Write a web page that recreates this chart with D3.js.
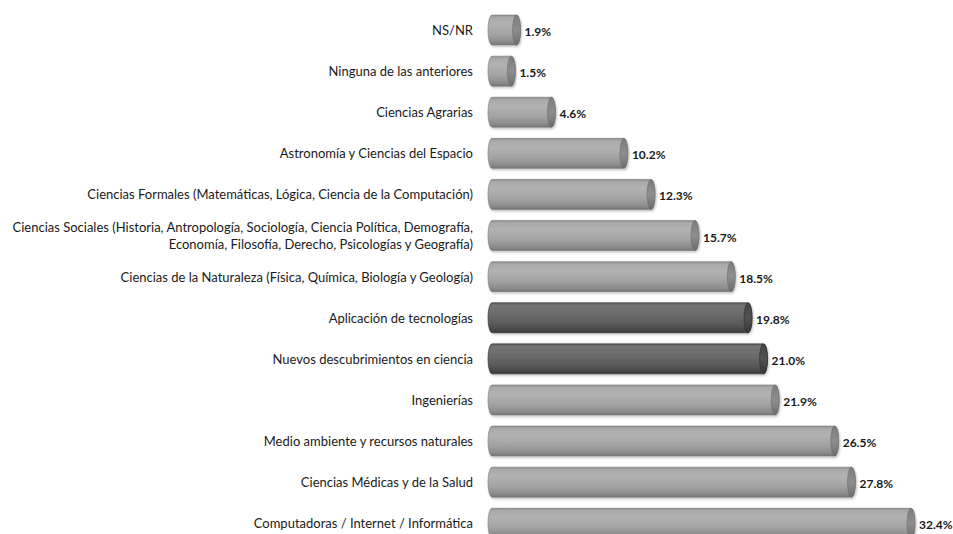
<!DOCTYPE html>
<html>
<head>
<meta charset="utf-8">
<script src="https://cdn.jsdelivr.net/npm/d3@7"></script>
<style>
  body { margin: 0; background: #fff; }
  svg { display: block; }
  .cat { font-family: Lato, "Noto Sans", sans-serif; font-size: 13px; fill: #1a1a1a; }
  .val { font-family: Lato, "Noto Sans", sans-serif; font-size: 12px; font-weight: bold; fill: #1a1a1a; }
</style>
</head>
<body>
<div id="chart"></div>
<script>
// data, top to bottom
var categories = [
  'NS/NR',
  'Ninguna de las anteriores',
  'Ciencias Agrarias',
  'Astronomía y Ciencias del Espacio',
  'Ciencias Formales (Matemáticas, Lógica, Ciencia de la Computación)',
  'Ciencias Sociales (Historia, Antropología, Sociología, Ciencia Política, Demografía,|Economía, Filosofía, Derecho, Psicologías y Geografía)',
  'Ciencias de la Naturaleza (Física, Química, Biología y Geología)',
  'Aplicación de tecnologías',
  'Nuevos descubrimientos en ciencia',
  'Ingenierías',
  'Medio ambiente y recursos naturales',
  'Ciencias Médicas y de la Salud',
  'Computadoras / Internet / Informática'
];
var values = [1.9, 1.5, 4.6, 10.2, 12.3, 15.7, 18.5, 19.8, 21.0, 21.9, 26.5, 27.8, 32.4];
var highlighted = ['Aplicación de tecnologías', 'Nuevos descubrimientos en ciencia'];

var width = 953,
    height = 534,
    rx = 4; // half width of the cylinder cap

var svg = d3.select('#chart').append('svg')
    .attr('width', width)
    .attr('height', height);

var x = d3.scaleLinear()
    .domain([0, 32.4])
    .range([492, 911]);

var y = d3.scaleBand()
    .domain(categories)
    .range([9.5, 9.5 + categories.length * 41.1])
    .paddingInner(0.27)
    .paddingOuter(0.135);

var defs = svg.append('defs');

function gradient(id, stops) {
  var g = defs.append('linearGradient')
      .attr('id', id)
      .attr('x1', 0).attr('y1', 0).attr('x2', 0).attr('y2', 1);
  stops.forEach(function(s) {
    g.append('stop').attr('offset', s[0]).attr('stop-color', s[1]);
  });
}
gradient('bodyLight', [[0, '#8e8e8e'], [0.08, '#a9a9a9'], [0.3, '#b3b3b3'], [0.65, '#a2a2a2'], [0.9, '#8a8a8a'], [1, '#737373']]);
gradient('bodyDark', [[0, '#5a5a5a'], [0.08, '#737373'], [0.3, '#6e6e6e'], [0.65, '#5e5e5e'], [0.9, '#484848'], [1, '#363636']]);
gradient('capLight', [[0, '#7c7c7c'], [0.5, '#8e8e8e'], [1, '#6c6c6c']]);
gradient('capDark', [[0, '#444'], [0.5, '#525252'], [1, '#353535']]);

var shadow = defs.append('filter').attr('id', 'shadow')
    .attr('x', '-5%').attr('y', '-20%').attr('width', '110%').attr('height', '150%');
shadow.append('feDropShadow')
    .attr('dx', 1).attr('dy', 1.5).attr('stdDeviation', 1.2)
    .attr('flood-color', '#000').attr('flood-opacity', 0.25);

var rows = categories.map(function(c, i) {
  return { cat: c, value: values[i], dark: highlighted.indexOf(c) >= 0 };
});

var bar = svg.selectAll('g.bar').data(rows).enter()
  .append('g').attr('class', 'bar')
  .attr('filter', 'url(#shadow)');

bar.append('path')
  .attr('d', function(d) {
    var x0 = x(0), x1 = x(d.value), t = y(d.cat), b = t + y.bandwidth(), ry = y.bandwidth() / 2;
    return 'M' + x0 + ',' + t + 'L' + x1 + ',' + t +
      'A' + rx + ',' + ry + ' 0 0 1 ' + x1 + ',' + b +
      'L' + x0 + ',' + b +
      'A' + rx + ',' + ry + ' 0 0 1 ' + x0 + ',' + t + 'Z';
  })
  .style('fill', function(d) { return d.dark ? 'url(#bodyDark)' : 'url(#bodyLight)'; })
  .style('stroke', function(d) { return d.dark ? '#2e2e2e' : '#7a7a7a'; })
  .style('stroke-width', 0.6);

bar.append('ellipse')
  .attr('cx', function(d) { return x(d.value); })
  .attr('cy', function(d) { return y(d.cat) + y.bandwidth() / 2; })
  .attr('rx', rx)
  .attr('ry', y.bandwidth() / 2)
  .style('fill', function(d) { return d.dark ? 'url(#capDark)' : 'url(#capLight)'; })
  .style('stroke', function(d) { return d.dark ? '#2e2e2e' : '#6e6e6e'; })
  .style('stroke-width', 0.6);

// value labels
svg.selectAll('text.val').data(rows).enter()
  .append('text').attr('class', 'val')
  .attr('x', function(d) { return x(d.value) + rx + 4; })
  .attr('y', function(d) { return y(d.cat) + y.bandwidth() / 2 + 6; })
  .text(function(d) { return d.value.toFixed(1) + '%'; });

// category labels
var cat = svg.selectAll('text.cat').data(rows).enter()
  .append('text').attr('class', 'cat')
  .attr('text-anchor', 'end')
  .attr('y', function(d) { return y(d.cat) + y.bandwidth() / 2 + 5; });

cat.each(function(d) {
  var lines = d.cat.split('|');
  var t = d3.select(this);
  lines.forEach(function(l, i) {
    t.append('tspan')
      .attr('x', 473)
      .attr('dy', i === 0 ? (-(lines.length - 1) * 8.5) : 17)
      .text(l);
  });
});
</script>
</body>
</html>
